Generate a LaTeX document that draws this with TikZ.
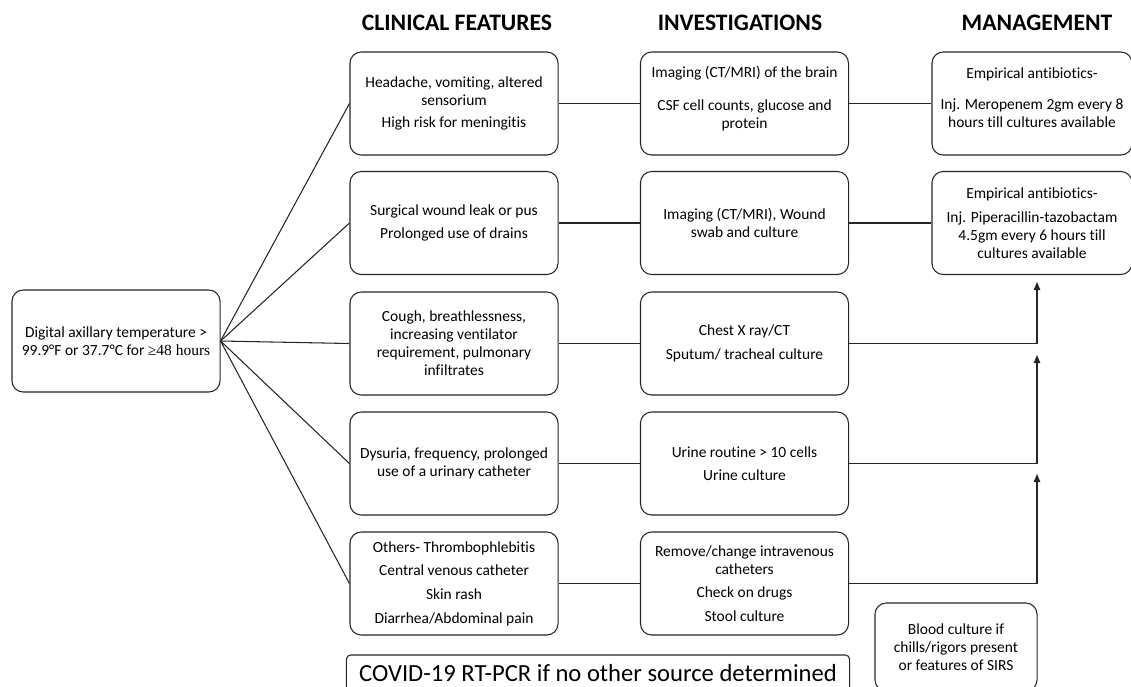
\documentclass[tikz,border=0pt]{standalone}
\usepackage{fontspec}
\setmainfont{Carlito}[Ligatures=NoCommon]
\newfontfamily\timesfont{Liberation Serif}
\usetikzlibrary{arrows.meta}

\begin{document}
\begin{tikzpicture}[
  x=0.025cm,
  y=-0.025cm,
  font=\fontsize{11}{12.8}\selectfont,
  line/.style={draw=black!85,line width=0.75pt},
  arrow/.style={line,-{Triangle[length=2mm,width=1.6mm]}},
  box/.style={line,rounded corners=8pt,align=center,minimum width=5.2cm,minimum height=2.575cm,inner sep=2pt},
  mgmtbox/.style={box,minimum width=5cm},
  heading/.style={font=\fontsize{16.8}{19}\selectfont\bfseries}
]
\useasboundingbox (0,0) rectangle (1131,686);

% Headings
\node[heading] (hclin) at (457,23) {CLINICAL FEATURES};
\node[heading] (hinv) at (740,23) {INVESTIGATIONS};
\node[heading] (hmgmt) at (1037,23) {MANAGEMENT};

% Fever
\node[box,minimum height=2.55cm] (fever) at (116,341)
  {Digital axillary temperature >\\99.9°F or 37.7°C for {\timesfont ≥48 hours}};

% Clinical features
\node[box] (clin1) at (454,103.5)
  {Headache, vomiting, altered\\sensorium\\[3pt]High risk for meningitis};
\node[box] (clin2) at (454,223)
  {Surgical wound leak or pus\\[3pt]Prolonged use of drains};
\node[box] (clin3) at (454,343.5)
  {Cough, breathlessness,\\increasing ventilator\\requirement, pulmonary\\infiltrates};
\node[box] (clin4) at (454,463.5)
  {Dysuria, frequency, prolonged\\use of a urinary catheter};
\node[box] (clin5) at (454,583.5)
  {Others- Thrombophlebitis\\[4pt]Central venous catheter\\[4pt]Skin rash\\[4pt]Diarrhea/Abdominal pain};

% Investigations
\node[box] (inv1) at (744.5,103.5)
  {Imaging (CT/MRI) of the brain\\[10pt]CSF cell counts, glucose and\\protein\\[-4pt]\mbox{}};
\node[box] (inv2) at (744.5,223)
  {Imaging (CT/MRI), Wound\\swab and culture};
\node[box] (inv3) at (744.5,343.5)
  {Chest X ray/CT\\[4pt]Sputum/ tracheal culture};
\node[box] (inv4) at (744.5,463.5)
  {Urine routine > 10 cells\\[4pt]Urine culture};
\node[box] (inv5) at (744.5,583.5)
  {Remove/change intravenous\\catheters\\[4pt]Check on drugs\\[4pt]Stool culture};

% Management
\node[mgmtbox] (mgmt1) at (1032,103.5)
  {Empirical antibiotics-\\[9pt]Inj. Meropenem 2gm every 8\\hours till cultures available\\[-4pt]\mbox{}};
\node[mgmtbox] (mgmt2) at (1032,223)
  {Empirical antibiotics-\\[4pt]Inj. Piperacillin-tazobactam\\4.5gm every 6 hours till\\cultures available};

\node[box,minimum width=4.05cm,minimum height=2.2cm] (blood) at (956,647)
  {Blood culture if\\chills/rigors present\\or features of SIRS};

\node[line,rounded corners=3pt,minimum width=12.575cm,minimum height=0.9cm,
  font=\fontsize{17.5}{21}\selectfont] (covid) at (598,673)
  {COVID-19 RT-PCR if no other source determined};

% Connectors
\foreach \i in {1,...,5}{
  \draw[line] (fever.east) -- (clin\i.west);
  \draw[line] (clin\i.east) -- (inv\i.west);
}
\draw[line] (inv1.east) -- (mgmt1.west);
\draw[line] (inv2.east) -- (mgmt2.west);

\coordinate (tip3) at (1037,282);
\coordinate (tip4) at (1037,355);
\coordinate (tip5) at (1037,474);
\draw[arrow] (inv3.east) -| (tip3);
\draw[arrow] (inv4.east) -| (tip4);
\draw[arrow] (inv5.east) -| (tip5);

\end{tikzpicture}
\end{document}
